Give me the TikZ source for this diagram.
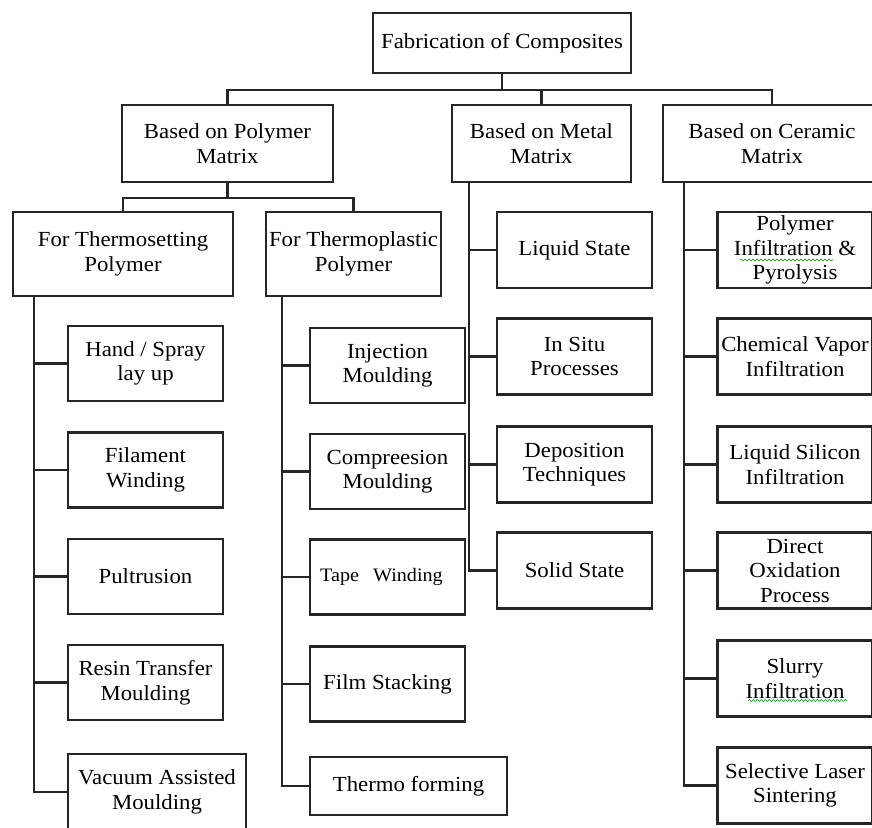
\documentclass[tikz,border=0pt]{standalone}
\usepackage{fontspec}
\setmainfont{Liberation Serif}[FakeStretch=1.06]
\usetikzlibrary{decorations.pathmorphing}

\begin{document}
\begin{tikzpicture}[x=1pt, y=-1pt,
  box/.style={draw=black!85, line width=2.3pt, align=center, inner sep=0pt,
    font=\fontsize{21.5}{24.5}\selectfont},
  leaf/.style={box, minimum width=155pt, minimum height=75pt},
  verb/.style={draw=black!85, line width=2.3pt},
  wellig/.style={draw=green!55!black, line width=0.6pt, decorate,
    decoration={snake, amplitude=1pt, segment length=4pt}}]
  \path[use as bounding box, clip] (0,0) rectangle (872,827);

  % Wurzel
  \node[box, minimum width=258pt, minimum height=60pt] (root) at (502,43) {Fabrication of Composites};

  % Matrixarten
  \node[box, minimum width=211pt, minimum height=77pt] (poly) at (227.5,143.5) {Based on Polymer\\Matrix};
  \node[box, minimum width=179pt, minimum height=77pt] (metal) at (541.5,143.5) {Based on Metal\\Matrix};
  \node[box, minimum width=218pt, minimum height=77pt] (ceram) at (772,143.5) {Based on Ceramic\\Matrix};

  % Polymerarten
  \node[box, minimum width=220pt, minimum height=84pt] (tset) at (123,254) {For Thermosetting\\Polymer};
  \node[box, minimum width=175pt, minimum height=84pt] (tplast) at (353.5,254) {For Thermoplastic\\Polymer};

  % Duroplaste
  \node[leaf] (hand) at (145.5,363.5) {Hand / Spray\\lay up};
  \node[leaf] (fil) at (145.5,470) {Filament\\Winding};
  \node[leaf] (pult) at (145.5,576.5) {Pultrusion};
  \node[leaf] (resin) at (145.5,682.5) {Resin Transfer\\Moulding};
  \node[box, minimum width=178pt, minimum height=76pt] (vac) at (157,792) {Vacuum Assisted\\Moulding};

  % Thermoplaste
  \node[leaf] (inj) at (387.5,365.5) {Injection\\Moulding};
  \node[leaf] (comp) at (387.5,471.5) {Compreesion\\Moulding};
  \node[leaf] (tape) at (387.5,577) {\fontsize{19}{22}\selectfont Tape\hspace{14pt}Winding\hspace*{12pt}};
  \node[leaf] (film) at (387.5,684) {Film Stacking};
  \node[box, minimum width=197pt, minimum height=58pt] (thermo) at (408.5,786) {Thermo forming};

  % Metallmatrix
  \node[leaf, minimum height=76pt] (liquid) at (574.5,250) {Liquid State};
  \node[leaf, minimum height=76pt] (insitu) at (574.5,356.5) {In Situ\\Processes};
  \node[leaf, minimum height=76pt] (depo) at (574.5,464.5) {Deposition\\Techniques};
  \node[leaf, minimum height=76pt] (solid) at (574.5,570.5) {Solid State};

  % Keramikmatrix
  \node[leaf, minimum height=76pt] (pip) at (795,250) {Polymer\\Infiltration \&\\Pyrolysis};
  \node[leaf, minimum height=76pt] (cvi) at (795,356.5) {Chemical Vapor\\Infiltration};
  \node[leaf, minimum height=76pt] (lsi) at (795,464.5) {Liquid Silicon\\Infiltration};
  \node[leaf, minimum height=76pt] (dop) at (795,570.5) {Direct\\Oxidation\\Process};
  \node[leaf, minimum height=76pt] (slurry) at (795,678.5) {Slurry\\Infiltration};
  \node[leaf, minimum height=76pt] (sls) at (795,785.5) {Selective Laser\\Sintering};

  % Verbindungen
  \foreach \m in {poly, metal, ceram}
    \draw[verb] (root.south) -- ++(0,16) -| (\m.north);
  \foreach \p in {tset, tplast}
    \draw[verb] (poly.south) -- ++(0,15) -| (\p.north);
  \foreach \c in {hand, fil, pult, resin, vac}
    \draw[verb] ([xshift=22pt]tset.south west) |- (\c.west);
  \foreach \c in {inj, comp, tape, film, thermo}
    \draw[verb] ([xshift=17pt]tplast.south west) |- (\c.west);
  \foreach \c in {liquid, insitu, depo, solid}
    \draw[verb] ([xshift=18pt]metal.south west) |- (\c.west);
  \foreach \c in {pip, cvi, lsi, dop, slurry, sls}
    \draw[verb] ([xshift=22pt]ceram.south west) |- (\c.west);

  % Rechtschreibmarkierung
  \draw[wellig] ([shift={(-55,10)}]pip.center) -- ([shift={(38,10)}]pip.center);
  \draw[wellig] ([shift={(-47,22)}]slurry.center) -- ([shift={(52,22)}]slurry.center);
\end{tikzpicture}
\end{document}
